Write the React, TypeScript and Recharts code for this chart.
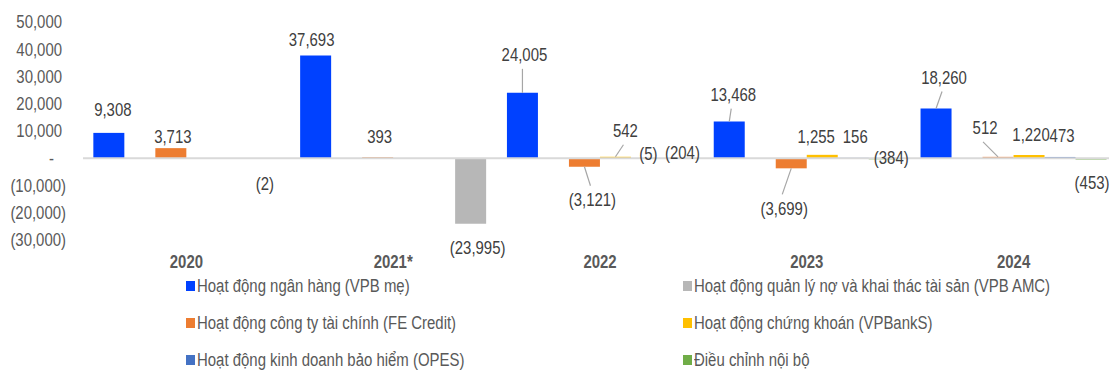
import React from "react";
import { BarChart, Bar, XAxis, YAxis, Legend, ReferenceLine, LabelList, Cell } from "recharts";

// ---- data (tỷ đồng) ----
const years = ["2020", "2021*", "2022", "2023", "2024"];
const bankOps = [9308, 37693, 24005, 13468, 18260];
const amcOps: (number | null)[] = [null, null, null, null, null];
const feCredit = [3713, 393, -3121, -3699, 512];
const securities: (number | null)[] = [null, null, 542, 1255, 1220];
const insurance: (number | null)[] = [null, null, -5, 156, 473];
const internalAdj = [-2, -23995, -204, -384, -453];
const yTicks = [-30000, -20000, -10000, 0, 10000, 20000, 30000, 40000, 50000];

// no Arial Narrow offline -> squeeze Liberation Sans horizontally
const FONT = "'Liberation Sans', Arial, sans-serif";
const SQ = 0.83;

const series = [
  { key: "bank", name: "Hoạt động ngân hàng (VPB mẹ)", color: "#0041FF", values: bankOps },
  { key: "amc", name: "Hoạt động quản lý nợ và khai thác tài sản (VPB AMC)", color: "#B7B7B7", values: amcOps },
  { key: "fe", name: "Hoạt động công ty tài chính (FE Credit)", color: "#ED7D31", values: feCredit },
  { key: "sec", name: "Hoạt động chứng khoán (VPBankS)", color: "#FFC000", values: securities },
  { key: "ins", name: "Hoạt động kinh doanh bảo hiểm (OPES)", color: "#4472C4", values: insurance },
  { key: "adj", name: "Điều chỉnh nội bộ", color: "#70AD47", values: internalAdj },
];

// per-point colour overrides (the 2021 adjustment bar is grey in the source)
const cellOverrides: Record<string, string> = { "adj-1": "#B7B7B7" };

// label placement: [dx, dy from bar end, leader line]
const labelOffsets: Record<string, [number, number, boolean]> = {
  "bank-0": [4, -23, false],
  "bank-1": [-4, -16, false],
  "bank-2": [2, -38, true],
  "bank-3": [4, -27, true],
  "bank-4": [8, -31, true],
  "fe-0": [2, -11, false],
  "fe-1": [2, -20, false],
  "fe-2": [8, 33, true],
  "fe-3": [-7, 40, true],
  "fe-4": [-13, -29, true],
  "sec-2": [10, -26, true],
  "sec-3": [-6, -18, false],
  "sec-4": [2, -20, false],
  "ins-2": [2, -5, false],
  "ins-3": [2, -21, false],
  "ins-4": [2, -21, false],
  "adj-0": [1, 25, false],
  "adj-1": [7, 24, false],
  "adj-2": [5, -6, false],
  "adj-3": [7, -2, false],
  "adj-4": [1, 23, false],
};

const data = years.map((year, i) => {
  const row: Record<string, string | number | null> = { year };
  series.forEach((s) => (row[s.key] = s.values[i]));
  return row;
});

const fmt = (n: number) => n.toLocaleString("en-US");
const fmtAcc = (n: number) => (n < 0 ? `(${fmt(-n)})` : fmt(n));

const NarrowText = ({ x, y, anchor = "middle", fill = "#595959", bold = false, dy = "0.35em", children }: any) => (
  <text
    transform={`translate(${x},${y}) scale(${SQ},1)`}
    x={0}
    y={0}
    dy={dy}
    textAnchor={anchor}
    fill={fill}
    fontSize={18}
    fontWeight={bold ? "bold" : "normal"}
    fontFamily={FONT}
  >
    {children}
  </text>
);

const YTick = (props: any) => {
  const { x, y, payload } = props;
  const v = payload.value as number;
  const text = v === 0 ? "-" : fmtAcc(v);
  const shift = v === 0 ? -12 : v > 0 ? -4 : 0;
  return (
    <NarrowText x={x + shift} y={y} anchor="end">
      {text}
    </NarrowText>
  );
};

const XTick = (props: any) => {
  const { x, y, payload } = props;
  return (
    <NarrowText x={x} y={y} dy="0.75em" bold>
      {payload.value}
    </NarrowText>
  );
};

const makeLabel = (key: string, values: (number | null)[]) => (props: any) => {
  const { value } = props;
  if (value == null) return null;
  // null points are skipped by LabelList, so find the year index from the value
  const idx = values.indexOf(value);
  const vb = props.viewBox ?? props;
  const x = Number(vb.x), y = Number(vb.y), w = Number(vb.width), h = Number(vb.height);
  const top = Math.min(y, y + h);
  const bottom = Math.max(y, y + h);
  const bx = x + w / 2;
  const by = value >= 0 ? top : bottom;
  const [dx, dy, leader] = labelOffsets[`${key}-${idx}`] ?? [0, value >= 0 ? -12 : 12, false];
  const cx = bx + dx;
  const cy = by + dy;
  return (
    <g>
      {leader && (
        <line x1={bx} y1={by} x2={cx - 2} y2={cy + (dy < 0 ? 14 : -14)} stroke="#A6A6A6" strokeWidth={1.2} />
      )}
      <NarrowText x={cx} y={cy} fill="#404040">
        {fmtAcc(value)}
      </NarrowText>
    </g>
  );
};

const LegendContent = () => (
  <div style={{ position: "relative", height: 94, fontFamily: FONT, fontSize: 18, color: "#595959" }}>
    {series.map((s, i) => (
      <div
        key={s.key}
        style={{
          position: "absolute",
          left: i % 2 === 0 ? 186 : 683,
          top: Math.floor(i / 2) * 37,
          height: 20,
          display: "flex",
          alignItems: "center",
          whiteSpace: "nowrap",
        }}
      >
        <span style={{ display: "inline-block", width: 9, height: 10, background: s.color, marginRight: 2 }} />
        <span style={{ display: "inline-block", transform: `scaleX(${SQ})`, transformOrigin: "left center" }}>
          {s.name}
        </span>
      </div>
    ))}
  </div>
);

export default function App() {
  return (
    <div style={{ width: 1109, height: 370, overflow: "hidden", position: "relative", background: "#fff" }}>
      <style>{`body{margin:0}`}</style>
      <BarChart
        width={1125}
        height={370}
        data={data}
        margin={{ top: 22, right: 8, left: 0, bottom: 0 }}
        barCategoryGap="5%"
        barGap={0}
      >
        <XAxis dataKey="year" axisLine={false} tickLine={false} tickSize={0} tickMargin={14} height={36} tick={<XTick />} interval={0} />
        <YAxis
          domain={[-30000, 50000]}
          ticks={yTicks}
          width={83}
          axisLine={false}
          tickLine={false}
          tickSize={0}
          tickMargin={17}
          tick={<YTick />}
          interval={0}
        />
        <ReferenceLine y={0} stroke="#D9D9D9" strokeWidth={2} />
        {series.map((s) => (
          <Bar key={s.key} dataKey={s.key} name={s.name} fill={s.color} isAnimationActive={false}>
            {data.map((_, i) => (
              <Cell key={i} fill={cellOverrides[`${s.key}-${i}`] ?? s.color} />
            ))}
            <LabelList dataKey={s.key} content={makeLabel(s.key, s.values)} />
          </Bar>
        ))}
        <Legend
          verticalAlign="bottom"
          content={<LegendContent />}
          wrapperStyle={{ left: 0, top: 276, width: 1109, height: 94 }}
        />
      </BarChart>
    </div>
  );
}
